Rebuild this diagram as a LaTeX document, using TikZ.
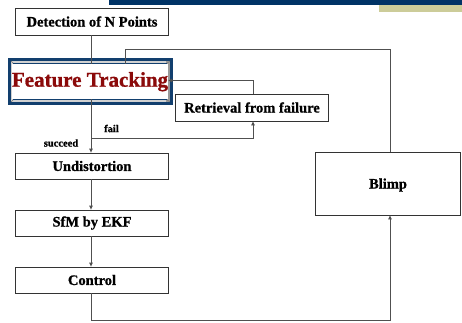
\documentclass[tikz,border=0pt]{standalone}
\usepackage{fontspec}
\setmainfont{Liberation Serif}[BoldFeatures={FakeBold=0.9}]
\usetikzlibrary{arrows.meta,calc}
\definecolor{navy}{HTML}{003366}
\definecolor{khaki}{HTML}{CCCC99}
\definecolor{framblue}{HTML}{123F6E}
\definecolor{darkred}{HTML}{8B0A0A}
\definecolor{wire}{HTML}{505050}
\tikzset{
  stepbox/.style={draw=black!80, line width=0.8pt, fill=white, inner sep=0pt,
    minimum width=153pt, minimum height=26pt,
    font=\fontsize{14.5}{16}\selectfont\bfseries},
  link/.style={draw=wire, line width=0.8pt},
  flow/.style={link, -{Triangle[width=3.5pt,length=4pt]}},
  tag/.style={inner sep=0pt, font=\fontsize{10.5}{12}\selectfont\bfseries}
}
\begin{document}
\begin{tikzpicture}[x=1pt,y=-1pt]
\useasboundingbox (0,0) rectangle (462,322);

% title bars
\fill[navy] (109,0) rectangle (462,5);
\fill[khaki] (379,5) rectangle (462,12);

% framed main box: outer blue, bevel, inner blue rule, white face
\fill[framblue] (8,58) rectangle (173,105);
\fill[black!18] (11,61) rectangle (170,102);
\fill[black!40] (166,61) -- (170,61) -- (170,102) -- (166,102) -- cycle;
\draw[black!55, line width=0.4pt] (11,61) -- (14,64) (170,61) -- (166,64)
  (11,102) -- (14,99) (170,102) -- (166,99);
\fill[framblue] (12.8,62.8) rectangle (167,100.4);
\node[fill=white, inner sep=0pt, minimum width=152pt, minimum height=35pt,
  text=darkred, font=\fontsize{21}{24}\selectfont\bfseries] (ft) at (90,81.7) {Feature Tracking};

% process boxes
\node[stepbox, minimum height=27pt] (det) at (92,21.5) {Detection of N Points};
\node[stepbox, minimum height=27pt] (ret) at (252,107.5) {Retrieval from failure};
\node[stepbox] (und) at (92,166) {Undistortion};
\node[stepbox] (sfm) at (92,223) {SfM by EKF};
\node[stepbox] (ctl) at (92,280) {Control};
\node[stepbox, minimum width=145pt, minimum height=63pt, text depth=-2pt] (blimp) at (388,183.5) {Blimp};

% routing points
\coordinate (spine) at (91,0);
\coordinate (split) at (91,138);
\coordinate (up) at (390,0);
\coordinate (topy) at (0,49);
\coordinate (bot) at (0,320.5);
\coordinate (retx) at (253,0);

% connectors
\draw[link] (det.south -| spine) -- (ft.north -| spine);
\draw[link] (blimp.north -| up) -- (up |- topy) -| (ft.north -| 125,0);
\draw[flow] (ret.north -| retx) |- (ft.east |- 0,80.5);
\draw[flow] (ft.south -| spine) -- (und.north -| spine);
\draw[flow] (split) -| (ret.south -| retx);
\draw[flow] (und.south -| spine) -- (sfm.north -| spine);
\draw[flow] (sfm.south -| spine) -- (ctl.north -| spine);
\draw[flow] (ctl.south -| spine) |- (up |- bot) -- (blimp.south -| up);

% branch labels
\node[tag] (fail) at (111.5,128.5) {fail};
\node[tag] (succ) at (61,143) {succeed};
\end{tikzpicture}
\end{document}
